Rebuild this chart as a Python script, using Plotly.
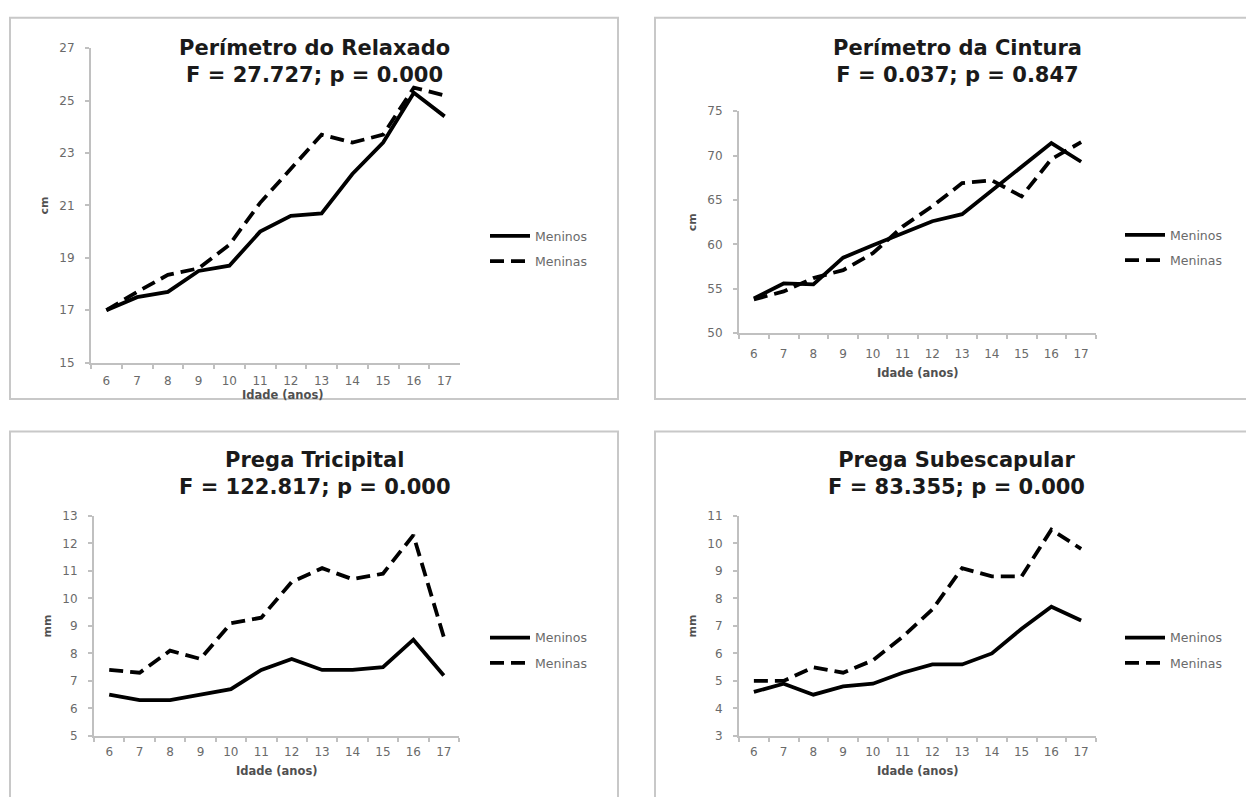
import plotly.graph_objects as go

W, H = 1246, 797

ages = [str(a) for a in range(6, 18)]

# Perímetro do Relaxado (cm)
relax_meninos = [17.0, 17.5, 17.7, 18.5, 18.7, 20.0, 20.6, 20.7, 22.2, 23.4, 25.3, 24.4]
relax_meninas = [17.0, 17.7, 18.35, 18.6, 19.5, 21.1, 22.4, 23.7, 23.4, 23.7, 25.5, 25.2]
# Perímetro da Cintura (cm)
cint_meninos = [53.9, 55.6, 55.5, 58.5, 59.9, 61.3, 62.6, 63.4, 66.1, 68.7, 71.4, 69.3]
cint_meninas = [53.8, 54.7, 56.2, 57.1, 59.0, 62.0, 64.3, 66.9, 67.2, 65.4, 69.6, 71.5]
# Prega Tricipital (mm)
tric_meninos = [6.5, 6.3, 6.3, 6.5, 6.7, 7.4, 7.8, 7.4, 7.4, 7.5, 8.5, 7.2]
tric_meninas = [7.4, 7.3, 8.1, 7.8, 9.1, 9.3, 10.6, 11.1, 10.7, 10.9, 12.3, 8.6]
# Prega Subescapular (mm)
sub_meninos = [4.6, 4.9, 4.5, 4.8, 4.9, 5.3, 5.6, 5.6, 6.0, 6.9, 7.7, 7.2]
sub_meninas = [5.0, 5.0, 5.5, 5.3, 5.75, 6.6, 7.6, 9.1, 8.8, 8.8, 10.5, 9.8]

titles = [
    ["Perímetro do Relaxado", "F = 27.727; p = 0.000"],
    ["Perímetro da Cintura", "F = 0.037; p = 0.847"],
    ["Prega Tricipital", "F = 122.817; p = 0.000"],
    ["Prega Subescapular", "F = 83.355; p = 0.000"],
]
y_units = ["cm", "cm", "mm", "mm"]
x_title = "Idade (anos)"
y_ranges = [(15, 27, 2), (50, 75, 5), (5, 13, 1), (3, 11, 1)]
series_names = ["Meninos", "Meninas"]

def px_x(p):
    return p / W

def px_y(p):
    return 1 - p / H

# pixel geometry of plot areas: (left, right, top, bottom)
areas = [
    (91, 460, 42, 362),
    (739, 1096, 106, 332),
    (94, 459, 518, 742),
    (739, 1096, 518, 742),
]
title_pos = [(314, 55), (957, 55), (315, 475), (956, 475)]
xtitle_pos = [(283, 395), (918, 373), (277, 778), (918, 778)]
legend_pos = [(485, 246), (1120, 245), (485, 655), (1120, 655)]
boxes = [(10, 618, 11, 399), (655, 1260, 11, 399), (10, 618, 432, 810), (655, 1260, 432, 810)]
xlabel_standoff = [6, 8, 4, 4]

data = [
    (relax_meninos, relax_meninas),
    (cint_meninos, cint_meninas),
    (tric_meninos, tric_meninas),
    (sub_meninos, sub_meninas),
]

fig = go.Figure()
FONT = "DejaVu Sans, sans-serif"
GRAY_AXIS = "#c0c0c0"
GRAY_TXT = "#6a6a6a"

layout = dict(
    width=W, height=H,
    margin=dict(l=0, r=0, t=0, b=0),
    paper_bgcolor="white", plot_bgcolor="white",
    font=dict(family=FONT, color=GRAY_TXT, size=12),
    shapes=[], annotations=[],
)

for i in range(4):
    idx = "" if i == 0 else str(i + 1)
    xa, ya = "x" + idx, "y" + idx
    legname = "legend" + idx
    m, f = data[i]
    fig.add_trace(go.Scatter(
        x=ages, y=m, mode="lines", name=series_names[0],
        line=dict(color="black", width=3.8),
        xaxis=xa, yaxis=ya, legend=legname, legendgroup="m%d" % i,
    ))
    fig.add_trace(go.Scatter(
        x=ages, y=f, mode="lines", name=series_names[1],
        line=dict(color="black", width=3.8, dash="14px,7px"),
        xaxis=xa, yaxis=ya, legend=legname, legendgroup="f%d" % i,
    ))
    l, r, t, b = areas[i]
    lo, hi, dt = y_ranges[i]
    layout["xaxis" + idx] = dict(
        domain=[px_x(l), px_x(r)], anchor=ya, type="category",
        range=[-0.5, len(ages) - 0.5],
        tickson="boundaries", ticks="outside", ticklen=4, tickcolor=GRAY_AXIS,
        tickwidth=1.5, ticklabelstandoff=xlabel_standoff[i],
        showline=True, linecolor=GRAY_AXIS, linewidth=2, showgrid=False,
        zeroline=False, tickfont=dict(size=12, color=GRAY_TXT),
        fixedrange=True,
    )
    layout["yaxis" + idx] = dict(
        domain=[px_y(b), px_y(t)], anchor=xa, range=[lo, hi], dtick=dt, tick0=lo,
        ticks="outside", ticklen=4, tickcolor=GRAY_AXIS, tickwidth=1.5,
        ticklabelstandoff=8,
        showline=True, linecolor=GRAY_AXIS, linewidth=2, showgrid=False,
        zeroline=False, tickfont=dict(size=12, color=GRAY_TXT),
        title=dict(text="<b>" + y_units[i] + "</b>", font=dict(size=11, color="#505050"),
                   standoff=8),
        fixedrange=True,
    )
    lx, ly = legend_pos[i]
    layout[legname] = dict(
        x=px_x(lx), y=px_y(ly), xanchor="left", yanchor="middle",
        bgcolor="rgba(0,0,0,0)", font=dict(size=12.5, color=GRAY_TXT),
        tracegroupgap=6, itemwidth=40,
    )
    tx, ty = title_pos[i]
    layout["annotations"].append(dict(
        text="<b>" + titles[i][0] + "</b><br><b>" + titles[i][1] + "</b>",
        x=px_x(tx), y=px_y(ty), xref="paper", yref="paper",
        xanchor="center", yanchor="middle", showarrow=False,
        font=dict(size=21, color="#1a1a1a", family=FONT),
    ))
    xx, xy = xtitle_pos[i]
    layout["annotations"].append(dict(
        text="<b>" + x_title + "</b>",
        x=px_x(xx), y=px_y(xy), xref="paper", yref="paper",
        xanchor="center", yanchor="middle", showarrow=False,
        font=dict(size=11.5, color="#505050", family=FONT),
    ))
    bl, br, bt, bb = boxes[i]
    layout["shapes"].append(dict(
        type="rect", xref="paper", yref="paper",
        x0=px_x(bl), x1=px_x(br), y0=px_y(bb), y1=px_y(bt),
        line=dict(color="#c8c8c8", width=2), layer="below",
    ))

fig.update_layout(**layout)
fig.write_html("out.html")
